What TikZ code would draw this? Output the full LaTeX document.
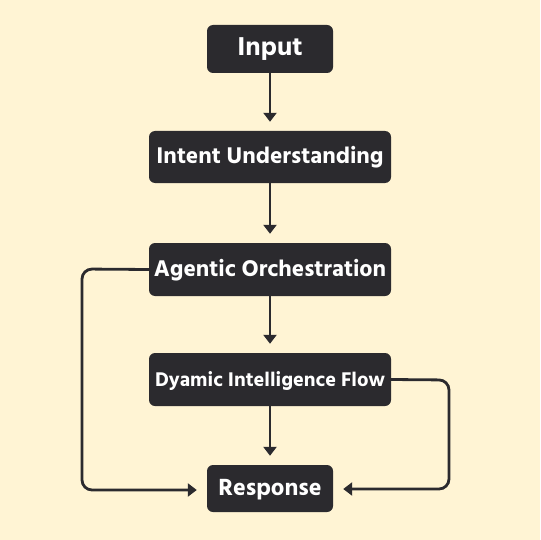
\documentclass[tikz,border=0pt]{standalone}
\usepackage{fontspec}
\setmainfont{Hind Siliguri}[BoldFont={* Bold}]
\usetikzlibrary{arrows.meta}
\definecolor{bg}{HTML}{FFF4D4}
\definecolor{boxc}{HTML}{2B2A2E}
\definecolor{linec}{HTML}{2B2A2E}
\begin{document}
\begin{tikzpicture}[x=1pt,y=-1pt,
  box/.style={fill=boxc,rounded corners=6pt,text=white,font=\bfseries,inner sep=0pt,text height=1.35em,text depth=0em},
  conn/.style={draw=linec,line width=2.8pt,-{Triangle[length=9pt,width=13pt]},rounded corners=10pt}]
\fill[bg] (0,0) rectangle (540,540);
\useasboundingbox (0,0) rectangle (540,540);
\node[box,minimum width=126pt,minimum height=48pt,font=\bfseries\fontsize{26.5}{30}\selectfont] (in) at (270,49) {Input};
\node[box,minimum width=242pt,minimum height=52pt,font=\bfseries\fontsize{23.3}{27}\selectfont] (iu) at (270,157) {Intent Understanding};
\node[box,minimum width=242pt,minimum height=53pt,font=\bfseries\fontsize{23.3}{27}\selectfont] (ao) at (270,269.5) {Agentic Orchestration};
\node[box,minimum width=242pt,minimum height=53pt,font=\bfseries\fontsize{20.3}{24}\selectfont] (df) at (270,379.5) {Dyamic Intelligence Flow};
\node[box,minimum width=126pt,minimum height=47pt,font=\bfseries\fontsize{24}{28}\selectfont] (re) at (270,488.5) {Response};
\coordinate (lt) at (82,269);
\coordinate (lb) at (82,490);
\coordinate (rt) at (449,380);
\coordinate (rb) at (449,489);
\draw[conn,shorten >=9pt] (in) -- (iu);
\draw[conn,shorten >=9pt] (iu) -- (ao);
\draw[conn,shorten >=9pt] (ao) -- (df);
\draw[conn,shorten >=9pt] (df) -- (re);
\draw[conn,shorten >=10pt] (ao.west) -- (lt) -- (lb) -- (re.west |- lb);
\draw[conn,shorten >=10pt] (df.east) -- (rt) -- (rb) -- (re.east |- rb);
\end{tikzpicture}
\end{document}
